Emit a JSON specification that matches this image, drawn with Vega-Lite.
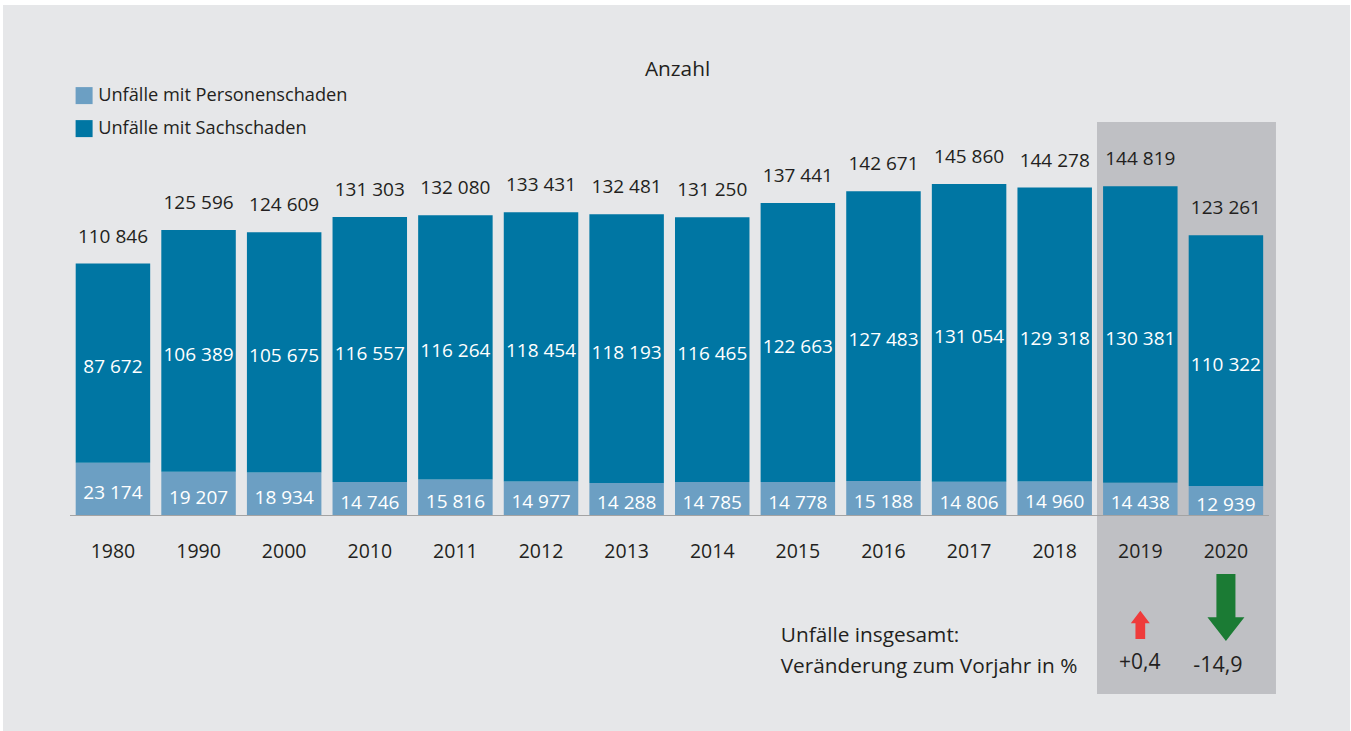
{
  "$schema": "https://vega.github.io/schema/vega-lite/v6.json",
  "width": 1347,
  "height": 726,
  "autosize": {"type": "none"},
  "padding": {"left": 3, "top": 5, "right": 1, "bottom": 0},
  "background": "#ffffff",
  "config": {
    "view": {"fill": "#e6e7e9", "stroke": null},
    "font": "Open Sans",
    "text": {"font": "Open Sans", "color": "#231f20"},
    "locale": {"number": {"decimal": ",", "thousands": " ", "grouping": [3], "currency": ["", " €"], "minus": "-"}}
  },
  "datasets": {
    "bars": [
      {"year": "1980", "type": "Unfälle mit Personenschaden", "n": 23174},
      {"year": "1980", "type": "Unfälle mit Sachschaden", "n": 87672},
      {"year": "1990", "type": "Unfälle mit Personenschaden", "n": 19207},
      {"year": "1990", "type": "Unfälle mit Sachschaden", "n": 106389},
      {"year": "2000", "type": "Unfälle mit Personenschaden", "n": 18934},
      {"year": "2000", "type": "Unfälle mit Sachschaden", "n": 105675},
      {"year": "2010", "type": "Unfälle mit Personenschaden", "n": 14746},
      {"year": "2010", "type": "Unfälle mit Sachschaden", "n": 116557},
      {"year": "2011", "type": "Unfälle mit Personenschaden", "n": 15816},
      {"year": "2011", "type": "Unfälle mit Sachschaden", "n": 116264},
      {"year": "2012", "type": "Unfälle mit Personenschaden", "n": 14977},
      {"year": "2012", "type": "Unfälle mit Sachschaden", "n": 118454},
      {"year": "2013", "type": "Unfälle mit Personenschaden", "n": 14288},
      {"year": "2013", "type": "Unfälle mit Sachschaden", "n": 118193},
      {"year": "2014", "type": "Unfälle mit Personenschaden", "n": 14785},
      {"year": "2014", "type": "Unfälle mit Sachschaden", "n": 116465},
      {"year": "2015", "type": "Unfälle mit Personenschaden", "n": 14778},
      {"year": "2015", "type": "Unfälle mit Sachschaden", "n": 122663},
      {"year": "2016", "type": "Unfälle mit Personenschaden", "n": 15188},
      {"year": "2016", "type": "Unfälle mit Sachschaden", "n": 127483},
      {"year": "2017", "type": "Unfälle mit Personenschaden", "n": 14806},
      {"year": "2017", "type": "Unfälle mit Sachschaden", "n": 131054},
      {"year": "2018", "type": "Unfälle mit Personenschaden", "n": 14960},
      {"year": "2018", "type": "Unfälle mit Sachschaden", "n": 129318},
      {"year": "2019", "type": "Unfälle mit Personenschaden", "n": 14438},
      {"year": "2019", "type": "Unfälle mit Sachschaden", "n": 130381},
      {"year": "2020", "type": "Unfälle mit Personenschaden", "n": 12939},
      {"year": "2020", "type": "Unfälle mit Sachschaden", "n": 110322}
    ],
    "changes": [
      {"year": "2019", "change": 0.4},
      {"year": "2020", "change": -14.9}
    ],
    "highlight": [
      {"from": "2019", "to": "2020"}
    ],
    "one": [{}]
  },
  "layer": [
    {
      "data": {"name": "highlight"},
      "mark": {"type": "rect", "color": "#bfc0c4"},
      "encoding": {
        "x": {"field": "from", "type": "nominal", "bandPosition": -0.0816, "axis": null},
        "x2": {"field": "to", "bandPosition": 1.172},
        "y": {"datum": 173119, "type": "quantitative", "axis": null},
        "y2": {"datum": -78531}
      }
    },
    {
      "data": {"name": "bars"},
      "mark": {"type": "bar"},
      "encoding": {
        "x": {
          "field": "year", "type": "nominal", "axis": null,
          "scale": {"type": "band", "paddingInner": 0.13, "paddingOuter": 0.93165, "align": 0.4557}
        },
        "y": {
          "field": "n", "type": "quantitative", "stack": "zero", "axis": null,
          "scale": {"domain": [-94809, 224593], "nice": false, "zero": false}
        },
        "color": {
          "field": "type", "type": "nominal",
          "scale": {"domain": ["Unfälle mit Personenschaden", "Unfälle mit Sachschaden"], "range": ["#6c9fc3", "#0076a3"]},
          "legend": {
            "orient": "none", "legendX": 72, "legendY": 81.5, "title": null,
            "symbolType": "square", "symbolSize": 289, "symbolStrokeWidth": 0, "symbolOpacity": 1,
            "labelFontSize": 18.2, "labelColor": "#231f20", "labelFont": "Open Sans",
            "rowPadding": 14, "labelOffset": 5, "padding": 0, "labelLimit": 400
          }
        },
        "order": {"field": "type", "sort": "ascending"}
      }
    },
    {
      "data": {"name": "one"},
      "mark": {"type": "rule", "color": "#a3a3a3", "strokeWidth": 1.2},
      "encoding": {
        "x": {"datum": "1980", "type": "nominal", "bandPosition": -0.0765, "axis": null},
        "x2": {"datum": "2020", "bandPosition": 1.078},
        "y": {"datum": 0, "type": "quantitative", "axis": null}
      }
    },
    {
      "data": {"name": "bars"},
      "transform": [
        {"stack": "n", "groupby": ["year"], "sort": [{"field": "type", "order": "ascending"}], "as": ["y0", "y1"]},
        {"fold": ["y0", "y1"], "as": ["k", "v"]}
      ],
      "mark": {"type": "text", "color": "#ffffff", "fontSize": 19, "baseline": "middle", "align": "center", "dy": 4},
      "encoding": {
        "x": {"field": "year", "type": "nominal", "axis": null},
        "y": {"aggregate": "mean", "field": "v", "type": "quantitative", "stack": null, "axis": null},
        "detail": {"field": "type", "type": "nominal"},
        "text": {"aggregate": "max", "field": "n", "type": "quantitative", "format": ",d"}
      }
    },
    {
      "data": {"name": "bars"},
      "mark": {"type": "text", "fontSize": 19, "baseline": "middle", "align": "center", "dy": -27},
      "encoding": {
        "x": {"field": "year", "type": "nominal", "axis": null},
        "y": {"aggregate": "sum", "field": "n", "type": "quantitative", "stack": null, "axis": null},
        "text": {"aggregate": "sum", "field": "n", "type": "quantitative", "format": ",d"}
      }
    },
    {
      "data": {"name": "bars"},
      "transform": [{"filter": "datum.type === 'Unfälle mit Personenschaden'"}],
      "mark": {"type": "text", "fontSize": 19.5, "baseline": "middle", "align": "center", "dy": 1},
      "encoding": {
        "x": {"field": "year", "type": "nominal", "axis": null},
        "y": {"datum": -15706, "type": "quantitative", "axis": null},
        "text": {"field": "year", "type": "nominal"}
      }
    },
    {
      "data": {"name": "one"},
      "mark": {"type": "text", "text": "Anzahl", "fontSize": 20.8, "baseline": "middle", "align": "center", "dy": 1},
      "encoding": {
        "x": {"datum": "2014", "type": "nominal", "bandPosition": 0.034, "axis": null},
        "y": {"datum": 196436, "type": "quantitative", "axis": null}
      }
    },
    {
      "data": {"name": "one"},
      "mark": {"type": "text", "text": "Unfälle insgesamt:", "fontSize": 20.8, "baseline": "middle", "align": "left", "dy": 1},
      "encoding": {
        "x": {"datum": "2015", "type": "nominal", "bandPosition": 0.27, "axis": null},
        "y": {"datum": -52706, "type": "quantitative", "axis": null}
      }
    },
    {
      "data": {"name": "one"},
      "mark": {"type": "text", "text": "Veränderung zum Vorjahr in %", "fontSize": 20.8, "baseline": "middle", "align": "left", "dy": 1},
      "encoding": {
        "x": {"datum": "2015", "type": "nominal", "bandPosition": 0.27, "axis": null},
        "y": {"datum": -66344, "type": "quantitative", "axis": null}
      }
    },
    {
      "data": {"name": "changes"},
      "transform": [{"filter": "datum.change > 0"}],
      "mark": {"type": "text", "fontSize": 21, "baseline": "middle", "align": "center", "dy": 1, "dx": -0.5},
      "encoding": {
        "x": {"field": "year", "type": "nominal", "axis": null},
        "y": {"datum": -64320, "type": "quantitative", "axis": null},
        "text": {"field": "change", "type": "quantitative", "format": "+.1f"}
      }
    },
    {
      "data": {"name": "changes"},
      "transform": [{"filter": "datum.change < 0"}],
      "mark": {"type": "text", "fontSize": 21.5, "baseline": "middle", "align": "center", "dy": 1, "dx": -8},
      "encoding": {
        "x": {"field": "year", "type": "nominal", "axis": null},
        "y": {"datum": -65684, "type": "quantitative", "axis": null},
        "text": {"field": "change", "type": "quantitative", "format": "+.1f"}
      }
    },
    {
      "data": {"name": "changes"},
      "transform": [{"filter": "datum.change > 0"}],
      "mark": {"type": "point", "shape": "M0,-1L0.671,-0.11L0.343,-0.11L0.343,1L-0.343,1L-0.343,-0.11L-0.671,-0.11Z", "size": 801, "filled": true, "color": "#ef3b3b", "opacity": 1, "strokeWidth": 0},
      "encoding": {
        "x": {"field": "year", "type": "nominal", "axis": null},
        "y": {"datum": -48108, "type": "quantitative", "axis": null}
      }
    },
    {
      "data": {"name": "changes"},
      "transform": [{"filter": "datum.change < 0"}],
      "mark": {"type": "point", "shape": "M-0.284,-1L0.284,-1L0.284,0.29L0.552,0.29L0,1L-0.552,0.29L-0.284,0.29Z", "size": 4489, "filled": true, "color": "#1b7b34", "opacity": 1, "strokeWidth": 0},
      "encoding": {
        "x": {"field": "year", "type": "nominal", "axis": null},
        "y": {"datum": -40475, "type": "quantitative", "axis": null}
      }
    }
  ]
}
